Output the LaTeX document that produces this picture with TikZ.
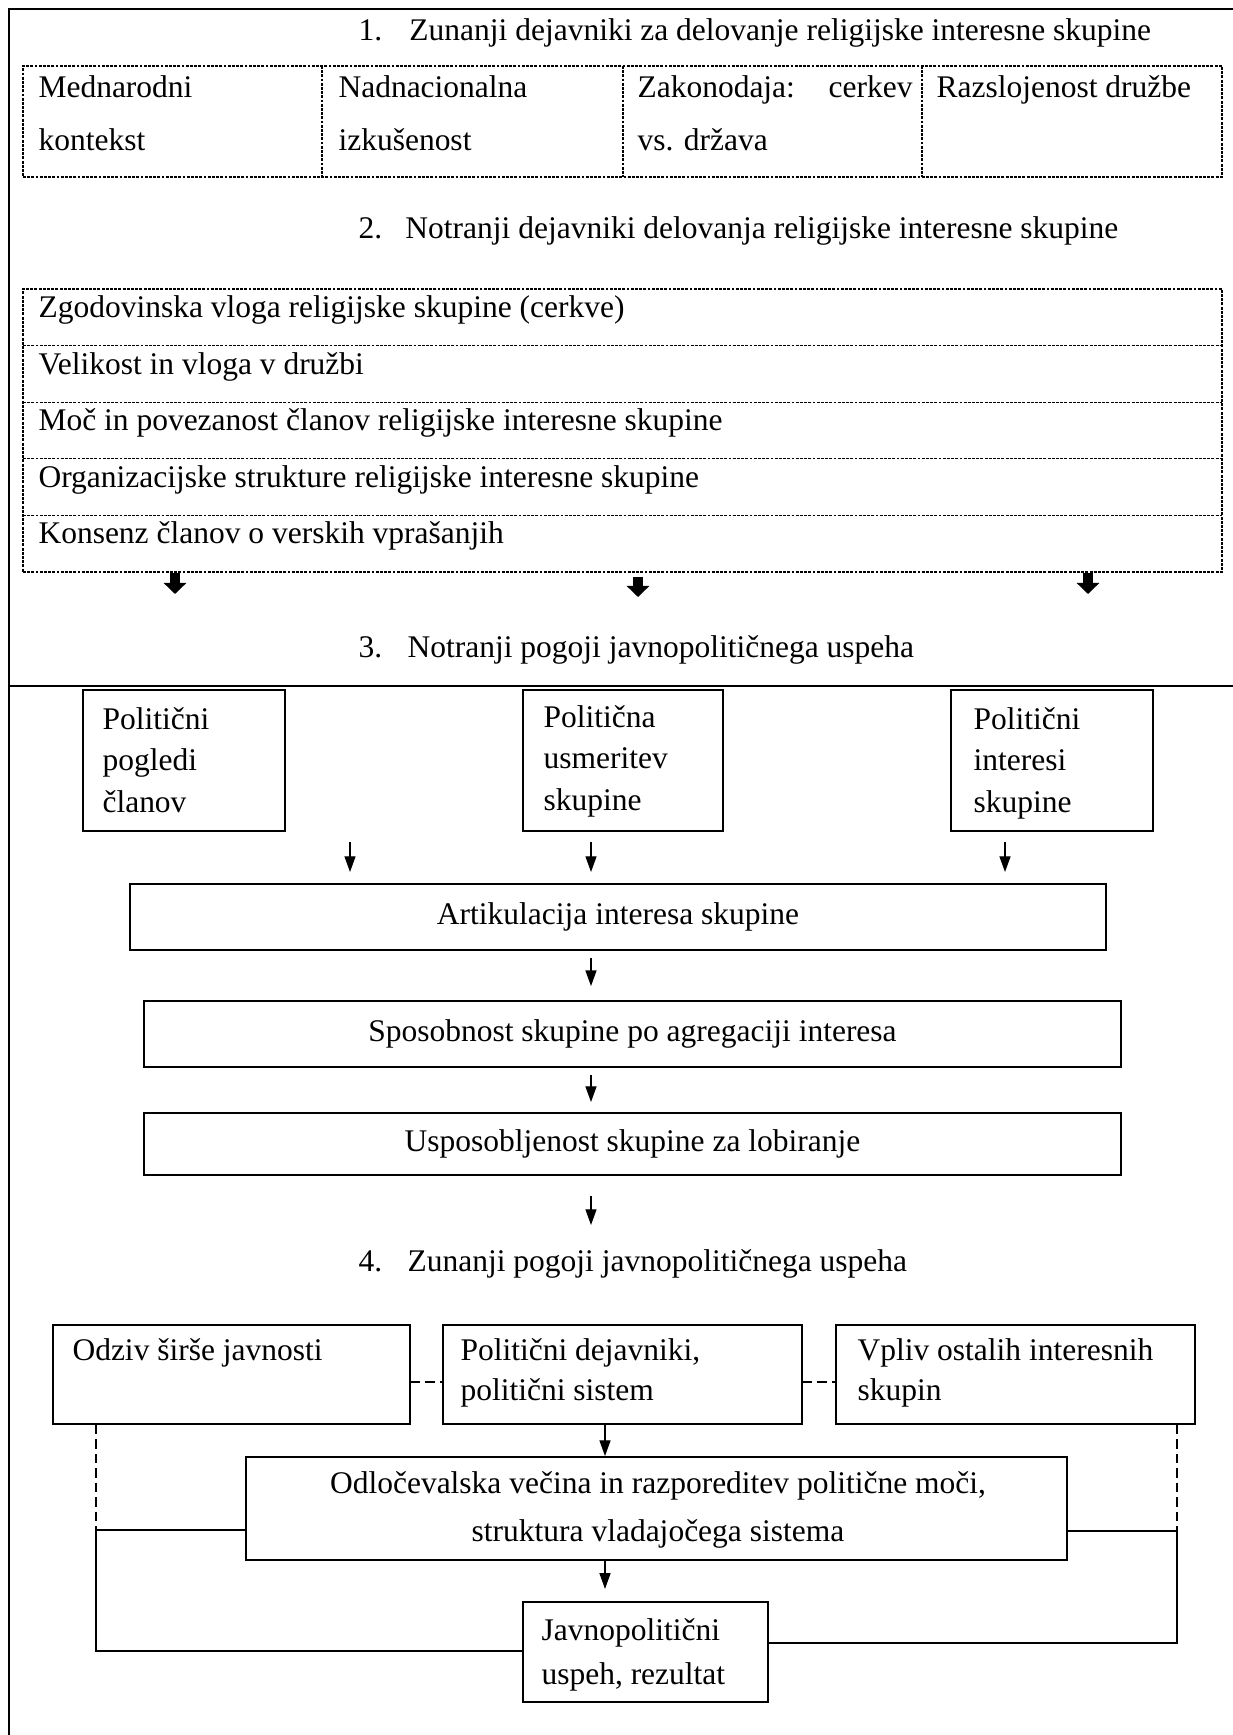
\documentclass[tikz,border=0pt]{standalone}
\usepackage{fontspec}
\setmainfont{Liberation Serif}
\usetikzlibrary{arrows.meta,calc,fit}

% a block of left- or centre-aligned lines whose baseline is the first line
\newcommand{\rowsat}[3][l]{{\fontsize{12pt}{#2}\selectfont\begin{tabular}[t]{@{}#1@{}}#3\end{tabular}}}

\begin{document}
\begin{tikzpicture}[x=0.381pt,y=-0.381pt,
  every node/.style={font=\fontsize{12pt}{14pt}\selectfont, inner sep=0pt},
  frameline/.style={line width=0.8pt},
  cell/.style={draw, line width=0.4pt, dash pattern=on 1.1pt off 0.5pt},
  cellline/.style={line width=0.4pt, dash pattern=on 1.1pt off 0.5pt},
  box/.style={draw, line width=0.75pt, rectangle},
  txt/.style={anchor=base west},
  ctxt/.style={anchor=base},
  thin/.style={line width=0.5pt, -{Triangle[width=4.2pt,length=6pt]}},
  fat/.style={line width=3.8pt, -{Triangle[width=8.4pt,length=4.2pt]}},
  link/.style={line width=0.6pt},
  dlink/.style={line width=0.6pt, dash pattern=on 3.6pt off 1.9pt},
]
\useasboundingbox (0,0) rectangle (1233,1735);

% page frame
\draw[frameline] (9,1735) -- (9,9) -- (1233,9);

% ---- 1. external factors
\node[txt] (h1) at (358,40) {\makebox[19.4pt][l]{1.}Zunanji dejavniki za delovanje religijske interesne skupine};
\node[cell, fit={(23,66) (1222,177)}] (t1) {};
\foreach \x in {322,623,922} \draw[cellline] (\x,66) -- (\x,177);
\node[txt] (c1) at (38,97)  {\rowsat{20.2pt}{Mednarodni\\kontekst}};
\node[txt] (c2) at (338,97) {\rowsat{20.2pt}{Nadnacionalna\\izkušenost}};
\node[txt] (c3) at (637,97) {\rowsat{20.2pt}{\makebox[104.8pt][s]{Zakonodaja: cerkev}\\vs. država}};
\node[txt] (c4) at (936,97) {Razslojenost družbe};

% ---- 2. internal factors
\node[txt] (h2) at (358,238) {\makebox[17.9pt][l]{2.}Notranji dejavniki delovanja religijske interesne skupine};
\node[cell, fit={(23,289) (1222,572)}] (t2) {};
\foreach \y in {345.6,402.2,458.8,515.4} \draw[cellline] (23,\y) -- (1222,\y);
\node[txt] (r1) at (38,317) {Zgodovinska vloga religijske skupine (cerkve)};
\node[txt] (r2) at (38,374) {Velikost in vloga v družbi};
\node[txt] (r3) at (38,430) {Moč in povezanost članov religijske interesne skupine};
\node[txt] (r4) at (38,487) {Organizacijske strukture religijske interesne skupine};
\node[txt] (r5) at (38,543) {Konsenz članov o verskih vprašanjih};

\coordinate (f1) at (175,594);
\coordinate (f2) at (638,597);
\coordinate (f3) at (1088,594);
\draw[fat] (t2.south -| f1) -- (f1);
\draw[fat] ($(t2.south -| f2)+(0,4)$) -- (f2);
\draw[fat] (t2.south -| f3) -- (f3);

% ---- 3. internal conditions
\node[txt] (h3) at (358,657) {\makebox[18.7pt][l]{3.}Notranji pogoji javnopolitičnega uspeha};
\draw[line width=1pt] (9,686) -- (1233,686);

\node[box, fit={(83,690) (285,831)}] (b1) {};
\node[box, fit={(523,690) (723,831)}] (b2) {};
\node[box, fit={(951,690) (1153,831)}] (b3) {};
\node[txt] (b1t) at (102,729) {\rowsat{15.9pt}{Politični\\pogledi\\članov}};
\node[txt] (b2t) at (543,727) {\rowsat{15.9pt}{Politična\\usmeritev\\skupine}};
\node[txt] (b3t) at (973,729) {\rowsat{15.9pt}{Politični\\interesi\\skupine}};

\node[box, fit={(130,884) (1106,950)}] (art) {};
\node (artt) at (art.center) {Artikulacija interesa skupine};
\node[box, fit={(144,1001) (1121,1067)}] (spo) {};
\node (spot) at (spo.center) {Sposobnost skupine po agregaciji interesa};
\node[box, fit={(144,1113) (1121,1175)}] (usp) {};
\node (uspt) at (usp.center) {Usposobljenost skupine za lobiranje};

\coordinate (p1) at (350,842);
\coordinate (p2) at (591,842);
\coordinate (p3) at (1005,842);
\foreach \p in {p1,p2,p3}
  \draw[thin, shorten >=4.2pt] (\p) -- (art.north -| \p);

\coordinate (mx) at (591,0);
\draw[thin, shorten <=2.7pt, shorten >=5.3pt] (art.south -| mx) -- (spo.north -| mx);
\draw[thin, shorten <=2.7pt, shorten >=3.8pt] (spo.south -| mx) -- (usp.north -| mx);
\coordinate (a4) at (591,1225);
\draw[thin, shorten <=7.6pt] (usp.south -| mx) -- (a4);

% ---- 4. external conditions
\node[txt] (h4) at (358,1271) {\makebox[18.7pt][l]{4.}Zunanji pogoji javnopolitičnega uspeha};

\node[box, fit={(53,1325) (410,1424)}] (oa) {};
\node[box, fit={(443,1325) (802,1424)}] (ob) {};
\node[box, fit={(836,1325) (1195,1424)}] (oc) {};
\node[txt] (oat) at (72,1360) {Odziv širše javnosti};
\node[txt] (obt) at (460,1360) {\rowsat{15.6pt}{Politični dejavniki,\\politični sistem}};
\node[txt] (oct) at (857,1360) {\rowsat{15.6pt}{Vpliv ostalih interesnih\\skupin}};

\coordinate (dy) at (0,1382);
\draw[dlink] (oa.east |- dy) -- (ob.west |- dy);
\draw[dlink] (ob.east |- dy) -- (oc.west |- dy);

\node[box, fit={(246,1457) (1067,1560)}] (ov) {};
\node[ctxt] (ovt) at (658,1493) {\rowsat[c]{18.3pt}{Odločevalska večina in razporeditev politične moči,\\struktura vladajočega sistema}};

\node[box, fit={(523,1602) (768,1702)}] (res) {};
\node[txt] (rest) at (541,1640) {\rowsat{16.8pt}{Javnopolitični\\uspeh, rezultat}};

\coordinate (ax) at (605,0);
\draw[thin] (ob.south -| ax) -- (ov.north -| ax);
\draw[thin, shorten >=4.6pt] (ov.south -| ax) -- (res.north -| ax);

% side links to the outcome
\coordinate (lx) at (96,0);
\coordinate (ly) at (0,1530);
\coordinate (ly2) at (0,1651);
\draw[dlink] (oa.south -| lx) -- (lx |- ly);
\draw[link] (ov.west |- ly) -- (lx |- ly) -- (lx |- ly2) -- (res.west |- ly2);

\coordinate (rx) at (1177,0);
\coordinate (ry) at (0,1531);
\coordinate (ry2) at (0,1643);
\draw[dlink] (oc.south -| rx) -- (rx |- ry);
\draw[link] (ov.east |- ry) -- (rx |- ry) -- (rx |- ry2) -- (res.east |- ry2);

\end{tikzpicture}
\end{document}
